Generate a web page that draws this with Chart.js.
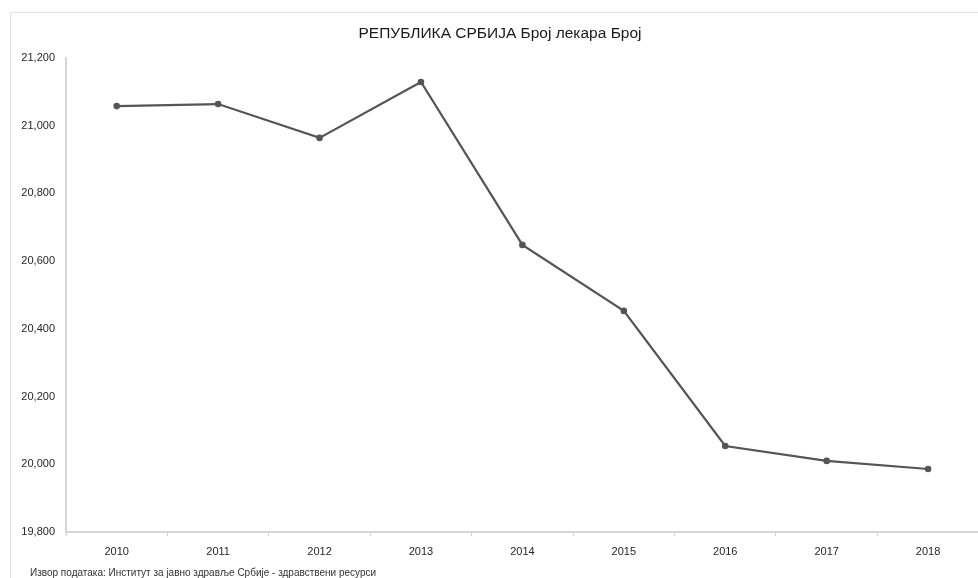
<!DOCTYPE html>
<html>
<head>
<meta charset="utf-8">
<script src="https://cdn.jsdelivr.net/npm/chart.js@4/dist/chart.umd.min.js"></script>
<style>
  html, body { margin: 0; padding: 0; width: 978px; height: 578px; overflow: hidden; background: #ffffff; }
  #frame { position: absolute; left: 10px; top: 12px; width: 1000px; height: 600px; border: 1px solid #e4e4e4; box-sizing: border-box; }
  #wrap { position: absolute; left: 0; top: 0; width: 985px; height: 578px; }
  #title { position: absolute; left: 0; width: 1000px; top: 24px; text-align: center; font-family: "Liberation Sans", Arial, sans-serif; font-size: 15.5px; color: #1a1a1a; }
  #source { position: absolute; left: 30px; top: 567px; font-family: "Liberation Sans", Arial, sans-serif; font-size: 10px; color: #333; white-space: nowrap; }
</style>
</head>
<body>
<div id="frame"></div>
<div id="wrap"><canvas id="c"></canvas></div>
<div id="title">РЕПУБЛИКА СРБИЈА Број лекара Број</div>
<div id="source">Извор података: Институт за јавно здравље Србије - здравствени ресурси</div>
<script>
const years = ["2010", "2011", "2012", "2013", "2014", "2015", "2016", "2017", "2018"];
const doctors = [21058, 21064, 20964, 21129, 20648, 20453, 20054, 20010, 19986];
const yMin = 19800;
const yMax = 21200;
const yStep = 200;

const fontFam = '"Liberation Sans", Arial, sans-serif';

new Chart(document.getElementById('c'), {
  type: 'line',
  data: {
    labels: years,
    datasets: [{
      data: doctors,
      borderColor: '#555555',
      backgroundColor: '#555555',
      borderWidth: 2.2,
      pointRadius: 2.2,
      pointBackgroundColor: '#555555',
      pointBorderColor: '#555555',
      tension: 0,
      fill: false
    }]
  },
  options: {
    responsive: true,
    maintainAspectRatio: false,
    animation: false,
    layout: { padding: { top: 58, right: 3, bottom: 0, left: 0 } },
    plugins: { legend: { display: false }, title: { display: false }, tooltip: { enabled: false } },
    scales: {
      x: {
        offset: true,
        grid: { display: true, offset: true, drawOnChartArea: false, drawTicks: true, tickLength: 4, color: '#d0d0d0' },
        border: { display: true, color: '#d6d6d6', width: 2 },
        ticks: { color: '#262626', font: { family: fontFam, size: 11 }, padding: 9, maxRotation: 0, autoSkip: false },
        afterFit: (s) => { s.height = 46; }
      },
      y: {
        min: yMin,
        max: yMax,
        grid: { display: true, drawOnChartArea: false, drawTicks: false },
        border: { display: true, color: '#d6d6d6', width: 2 },
        ticks: {
          stepSize: yStep,
          color: '#262626',
          font: { family: fontFam, size: 11 },
          padding: 11,
          callback: (v) => v.toLocaleString('en-US')
        },
        afterFit: (s) => { s.width = 66; }
      }
    }
  }
});
</script>
</body>
</html>
